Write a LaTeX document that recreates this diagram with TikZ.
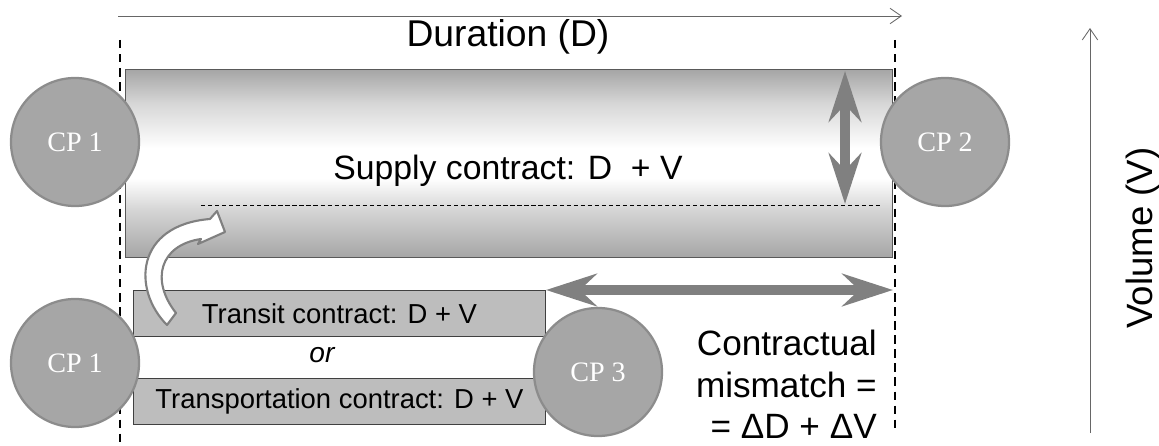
\documentclass[tikz,border=0pt]{standalone}
\usepackage{fontspec}
\setmainfont{Liberation Sans}
\newfontfamily\cpfont{Liberation Serif}
\usetikzlibrary{arrows.meta}

\definecolor{cpgray}{HTML}{A6A6A6}
\definecolor{cpedge}{HTML}{8C8C8C}
\definecolor{boxgray}{HTML}{BDBDBD}
\definecolor{arrgray}{HTML}{808080}
\pgfdeclareverticalshading{supplyshade}{100bp}{color(0bp)=(cpgray); color(25bp)=(cpgray); color(38bp)=(cpgray!45); color(46bp)=(white); color(54bp)=(white); color(66bp)=(cpgray!45); color(75bp)=(cpgray); color(100bp)=(cpgray)}

\begin{document}
\begin{tikzpicture}[x=0.025cm,y=-0.025cm,
    cpnode/.style={circle, draw=cpedge, line width=1.6pt, fill=cpgray, minimum size=3.2cm, inner sep=0pt, text=white, font=\cpfont\fontsize{20}{24}\selectfont},
    contractbox/.style={draw=black!75, line width=0.7pt, fill=boxgray, minimum width=10.275cm, minimum height=1.15cm, inner sep=0pt, font=\fontsize{19.5}{23}\selectfont},
    bigarrow/.style={draw=arrgray, line width=7pt, {Stealth[length=36pt,width=23pt,inset=12pt]}-{Stealth[length=36pt,width=23pt,inset=12pt]}},
    thinarrow/.style={draw=black!60, line width=0.6pt, -{Straight Barb[length=8pt,width=11pt]}},
    borderline/.style={line width=1.3pt, dash pattern=on 6pt off 4pt}]

    \useasboundingbox (0,0) rectangle (1159,446);

    \coordinate (dleft) at (118,16);
    \coordinate (dright) at (902,16);
    \draw[thinarrow] (dleft) -- (dright);
    \node[font=\fontsize{26.5}{30}\selectfont] (durlabel) at (508,37) {Duration (D)};

    \draw[borderline] (120,40) -- (120,446);
    \draw[borderline] (895,40) -- (895,433);

    \node[draw=black!65, line width=0.7pt, shading=supplyshade, minimum width=19.15cm, minimum height=4.675cm, inner sep=0pt] (supply) at (509,163.5) {};
    \node[font=\fontsize{24}{28}\selectfont] (supplytxt) at (508,171) {Supply contract: D\ \ + V};
    \coordinate (vtop) at (845,71);
    \coordinate (vbot) at (845,204);
    \draw[line width=0.6pt, dash pattern=on 3pt off 2pt] (201,205) -- (880,205);
    \draw[bigarrow] (vtop) -- (vbot);

    \node[cpnode] (cp1top) at (75,142) {CP 1};
    \node[cpnode] (cp2) at (945,142) {CP 2};

    \node[contractbox] (transit) at (339.5,313.5) {Transit contract: D + V};
    \node[font=\itshape\fontsize{20}{24}\selectfont] (ortxt) at (322,355) {or};
    \node[contractbox] (transport) at (339.5,401.5) {Transportation contract: D + V};

    \filldraw[draw=arrgray, fill=white, line width=1.5pt, line join=round]
        (167,325) .. controls (132,290) and (135,225) .. (210,219)
        -- (217,211) -- (225,232) -- (198,244) -- (201,239)
        .. controls (160,245) and (150,280) .. (176,313) -- cycle;

    \node[cpnode] (cp1bot) at (75,363) {CP 1};
    \node[cpnode] (cp3) at (598,372) {CP 3};

    \coordinate (mmleft) at (546,290);
    \coordinate (mmright) at (893,290);
    \draw[bigarrow] (mmleft) -- (mmright);

    \node[anchor=north east, align=right, inner sep=0pt, font=\fontsize{25}{29.5}\selectfont] (mismatch) at (877,330) {Contractual\\mismatch =\\= ΔD + ΔV};

    \coordinate (vvbot) at (1090,433);
    \coordinate (vvtop) at (1090,28);
    \draw[thinarrow] (vvbot) -- (vvtop);
    \node[rotate=90, font=\fontsize{26}{30}\selectfont] (voltxt) at (1143,238) {Volume (V)};

\end{tikzpicture}
\end{document}
